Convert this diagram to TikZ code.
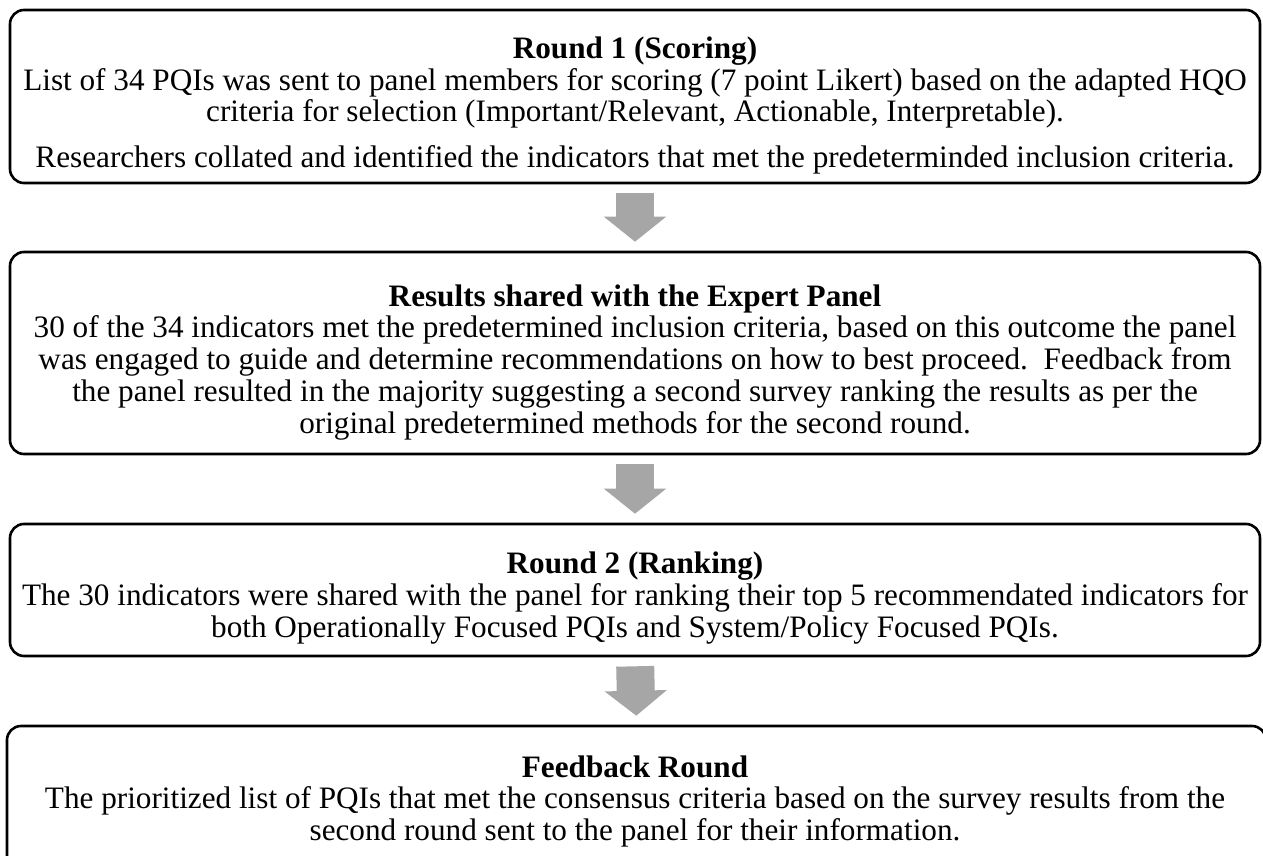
\documentclass[tikz,border=0pt]{standalone}
\usepackage{fontspec}
\setmainfont{Liberation Serif}
\usetikzlibrary{arrows.meta}
\definecolor{flowgray}{RGB}{166,166,166}
\tikzset{
  stage/.style={draw=black, line width=2.6pt, rounded corners=14pt, fill=white,
    inner sep=0pt, minimum width=#1},
  stage/.default=1250pt,
  txt/.style={inner sep=0pt, anchor=base, align=center,
    font=\fontsize{31.2}{31.7}\selectfont},
  ttl/.style={txt, font=\fontsize{31.2}{31.7}\selectfont\bfseries},
  flow/.style={draw=flowgray, line width=38pt, shorten <=9pt, shorten >=9pt,
    -{Triangle[width=61pt,length=25pt]}},
}
\begin{document}
\begin{tikzpicture}[x=1pt,y=-1pt]
\useasboundingbox (0,0) rectangle (1263,856);
\clip (0,0) rectangle (1263,856);

% stage boxes
\node[stage, minimum height=173pt] (b1) at (635,96.5) {};
\node[stage, minimum height=202pt] (b2) at (635,353) {};
\node[stage, minimum height=132pt] (b3) at (635,590) {};
\node[stage=1259pt, minimum height=150pt] (b4) at (636.5,801) {};

% block arrows between stages
\draw[flow] (b1.south) -- (b2.north);
\draw[flow] (b2.south) -- (b3.north);
\draw[flow] (b3.south) -- (b4.north);

% Round 1 (text nodes anchored at the baseline of their last line)
\node[ttl] (t1) at (635,59) {Round 1 (Scoring)};
\node[txt] (p1a) at (635,122) {List of 34 PQIs was sent to panel members for scoring (7 point Likert) based on the adapted HQO\\
criteria for selection (Important/Relevant, Actionable, Interpretable).};
\node[txt] (p1b) at (635,167) {Researchers collated and identified the indicators that met the predeterminded inclusion criteria.};

% Results shared
\node[ttl] (t2) at (635,306) {Results shared with the Expert Panel};
\node[txt] (p2) at (635,433) {30 of the 34 indicators met the predetermined inclusion criteria, based on this outcome the panel\\
was engaged to guide and determine recommendations on how to best proceed.\ \ Feedback from\\
the panel resulted in the majority suggesting a second survey ranking the results as per the\\
original predetermined methods for the second round.};

% Round 2
\node[ttl] (t3) at (635,573) {Round 2 (Ranking)};
\node[txt] (p3) at (635,637) {The 30 indicators were shared with the panel for ranking their top 5 recommendated indicators for\\
both Operationally Focused PQIs and System/Policy Focused PQIs.};

% Feedback
\node[ttl] (t4) at (635,777) {Feedback Round};
\node[txt] (p4) at (635,840) {The prioritized list of PQIs that met the consensus criteria based on the survey results from the\\
second round sent to the panel for their information.};
\end{tikzpicture}
\end{document}
